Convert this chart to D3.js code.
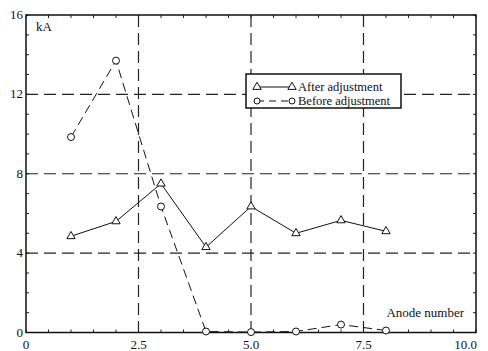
<!DOCTYPE html>
<html>
<head>
<meta charset="utf-8">
<script src="https://cdn.jsdelivr.net/npm/d3@7"></script>
<style>
  body { margin: 0; background: #fff; }
  svg text { font-family: "Liberation Serif", "Times New Roman", serif; font-size: 13px; fill: #111; }
</style>
</head>
<body>
<div id="chart"></div>
<script>
const anodes = [1, 2, 3, 4, 5, 6, 7, 8];
const afterAdj = [4.85, 5.6, 7.5, 4.3, 6.35, 5.0, 5.65, 5.1];
const beforeAdj = [9.85, 13.7, 6.35, 0.05, 0.02, 0.05, 0.4, 0.1];
const xTicks = [0, 2.5, 5, 7.5, 10];
const xTickLabels = ["0", "2.5", "5.0", "7.5", "10.0"];
const yTicks = [0, 4, 8, 12, 16];

const width = 488, height = 351;
const margin = { left: 26, right: 12, top: 15, bottom: 18.5 };

const svg = d3.select("#chart").append("svg")
  .attr("width", width)
  .attr("height", height)
  .attr("font-family", "Liberation Serif, serif");

const x = d3.scaleLinear().domain([0, 10]).range([margin.left, width - margin.right]);
const y = d3.scaleLinear().domain([0, 16]).range([height - margin.bottom, margin.top]);

// dashed grid
svg.selectAll(".vgrid")
  .data(xTicks.slice(1, -1))
  .enter().append("line")
  .attr("x1", d => x(d)).attr("x2", d => x(d))
  .attr("y1", y(16)).attr("y2", y(0))
  .attr("stroke", "#222").attr("stroke-width", 1.2)
  .attr("stroke-dasharray", "12,6");

svg.selectAll(".hgrid")
  .data(yTicks.slice(1, -1))
  .enter().append("line")
  .attr("x1", x(0)).attr("x2", x(10))
  .attr("y1", d => y(d)).attr("y2", d => y(d))
  .attr("stroke", "#222").attr("stroke-width", 1.2)
  .attr("stroke-dasharray", "12,6");

// minor ticks, inside, on all four sides
const xMinor = d3.range(0, 10.01, 0.5);
const yMinor = d3.range(0, 16.01, 1);
const tickG = svg.append("g").attr("stroke", "#222").attr("stroke-width", 1);
xMinor.forEach(d => {
  tickG.append("line").attr("x1", x(d)).attr("x2", x(d)).attr("y1", y(0)).attr("y2", y(0) - 3);
  tickG.append("line").attr("x1", x(d)).attr("x2", x(d)).attr("y1", y(16)).attr("y2", y(16) + 3);
});
yMinor.forEach(d => {
  tickG.append("line").attr("x1", x(0)).attr("x2", x(0) + 3).attr("y1", y(d)).attr("y2", y(d));
  tickG.append("line").attr("x1", x(10)).attr("x2", x(10) - 3).attr("y1", y(d)).attr("y2", y(d));
});

// frame
svg.append("rect")
  .attr("x", x(0)).attr("y", y(16))
  .attr("width", x(10) - x(0)).attr("height", y(0) - y(16))
  .attr("fill", "none").attr("stroke", "#111").attr("stroke-width", 1.5);

// tick labels
svg.selectAll(".xlab")
  .data(xTicks)
  .enter().append("text")
  .attr("x", (d, i) => i === xTicks.length - 1 ? x(d) + 1 : x(d))
  .attr("y", height - 2)
  .attr("text-anchor", (d, i) => i === xTicks.length - 1 ? "end" : "middle")
  .text((d, i) => xTickLabels[i]);

svg.selectAll(".ylab")
  .data(yTicks)
  .enter().append("text")
  .attr("x", x(0) - 3).attr("y", d => y(d) + 4)
  .attr("text-anchor", "end")
  .text(d => d);

svg.append("text").attr("x", x(0) + 10).attr("y", y(16) + 16).text("kA");
svg.append("text").attr("x", x(10) - 12).attr("y", y(0) - 16)
  .attr("text-anchor", "end").text("Anode number");

const line = d3.line().x(d => x(d[0])).y(d => y(d[1]));
const afterPts = anodes.map((a, i) => [a, afterAdj[i]]);
const beforePts = anodes.map((a, i) => [a, beforeAdj[i]]);

svg.append("path").datum(beforePts)
  .attr("d", line).attr("fill", "none")
  .attr("stroke", "#111").attr("stroke-width", 1)
  .attr("stroke-dasharray", "9,5");

svg.append("path").datum(afterPts)
  .attr("d", line).attr("fill", "none")
  .attr("stroke", "#111").attr("stroke-width", 1);

const tri = d3.symbol().type(d3.symbolTriangle).size(30);

svg.selectAll(".tri")
  .data(afterPts)
  .enter().append("path")
  .attr("d", tri)
  .attr("transform", d => `translate(${x(d[0])},${y(d[1])})`)
  .attr("fill", "#fff").attr("stroke", "#111").attr("stroke-width", 1);

svg.selectAll(".circ")
  .data(beforePts)
  .enter().append("circle")
  .attr("cx", d => x(d[0])).attr("cy", d => y(d[1])).attr("r", 3.5)
  .attr("fill", "#fff").attr("stroke", "#111").attr("stroke-width", 1);

// legend
const lg = svg.append("g");
lg.append("rect")
  .attr("x", 246).attr("y", 74).attr("width", 155).attr("height", 34)
  .attr("fill", "#fff").attr("stroke", "#111").attr("stroke-width", 1.5);
lg.append("line").attr("x1", 257).attr("x2", 292).attr("y1", 87).attr("y2", 87)
  .attr("stroke", "#111");
lg.append("path").attr("d", tri).attr("transform", "translate(257,87)")
  .attr("fill", "#fff").attr("stroke", "#111");
lg.append("path").attr("d", tri).attr("transform", "translate(292,87)")
  .attr("fill", "#fff").attr("stroke", "#111");
lg.append("line").attr("x1", 257).attr("x2", 292).attr("y1", 101).attr("y2", 101)
  .attr("stroke", "#111").attr("stroke-dasharray", "7,5");
lg.append("circle").attr("cx", 257).attr("cy", 101).attr("r", 3)
  .attr("fill", "#fff").attr("stroke", "#111");
lg.append("circle").attr("cx", 292).attr("cy", 101).attr("r", 3)
  .attr("fill", "#fff").attr("stroke", "#111");
lg.append("text").attr("x", 298).attr("y", 91).style("font-size", "12.5px").text("After adjustment");
lg.append("text").attr("x", 298).attr("y", 105).style("font-size", "12.5px").text("Before adjustment");
</script>
</body>
</html>
